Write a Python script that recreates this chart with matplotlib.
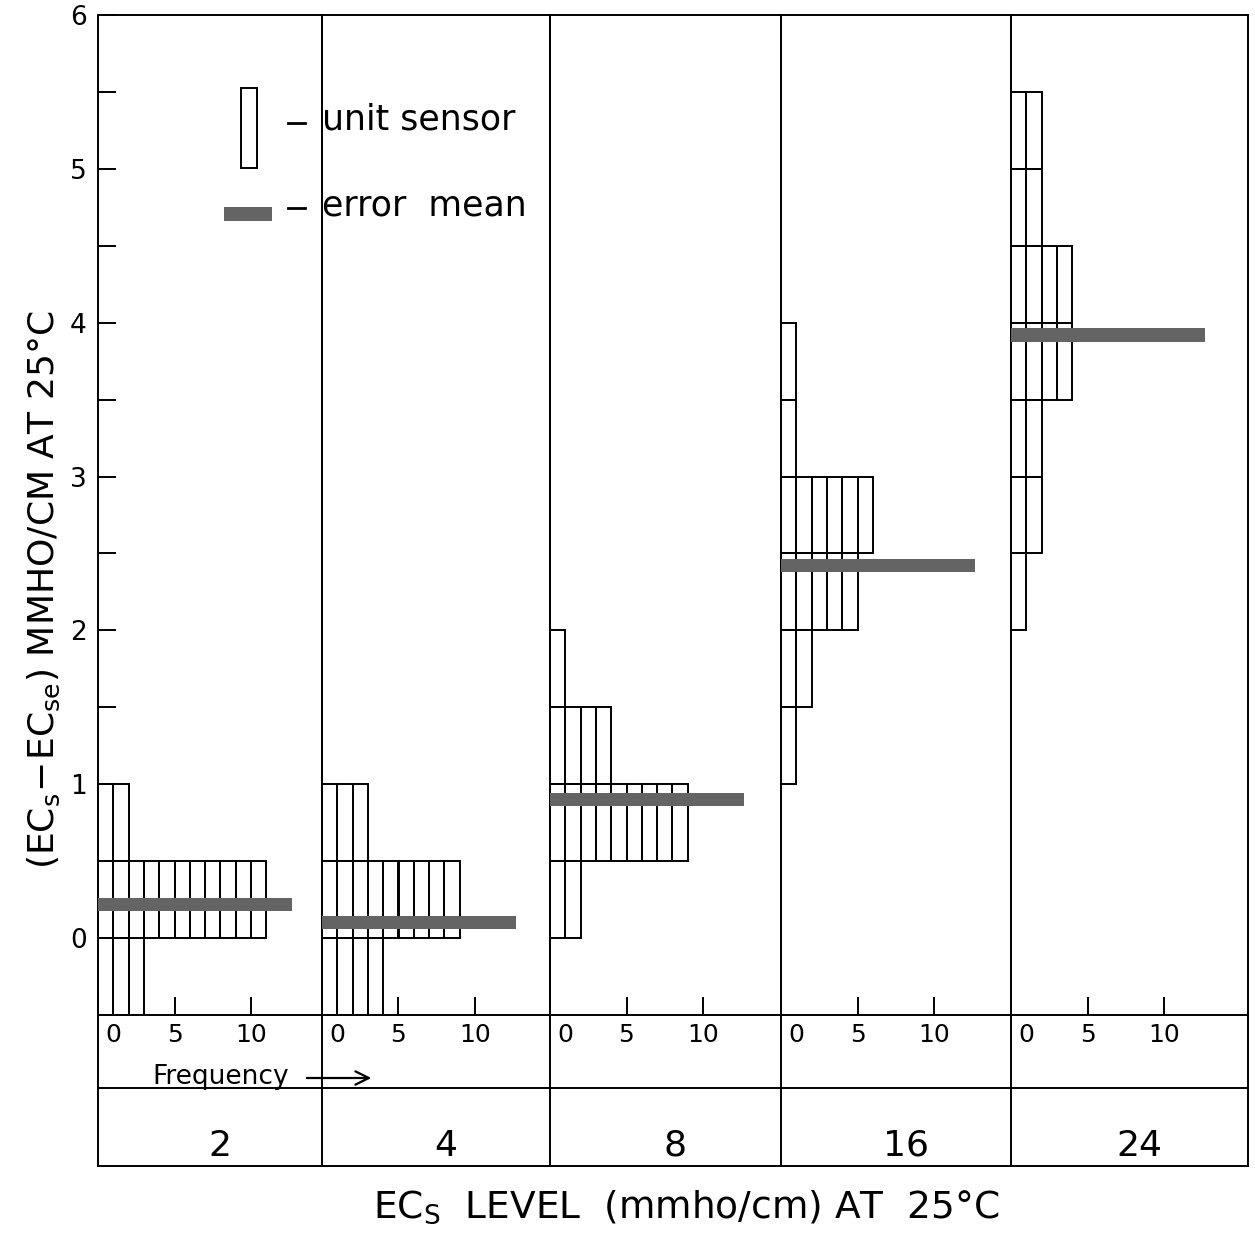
import matplotlib
matplotlib.use('Agg')
import matplotlib.pyplot as plt
from matplotlib.patches import Rectangle
from matplotlib.lines import Line2D
from matplotlib.transforms import ScaledTranslation

plt.rcParams['font.family'] = ['DejaVu Sans']

# ---------------- data ----------------
ec_levels = ['2', '4', '8', '16', '24']
bin_width = 0.5
# lower edge of each 0.5-wide error bin, and number of unit sensors in it
bin_lows = [
    [-0.5, 0.0, 0.5],
    [-0.5, 0.0, 0.5],
    [0.0, 0.5, 1.0, 1.5],
    [1.0, 1.5, 2.0, 2.5, 3.0, 3.5],
    [2.0, 2.5, 3.0, 3.5, 4.0, 4.5, 5.0],
]
bin_counts = [
    [3, 11, 2],
    [4, 9, 3],
    [2, 9, 4, 1],
    [1, 2, 5, 6, 1, 1],
    [1, 2, 2, 4, 4, 2, 2],
]
error_means = [0.22, 0.10, 0.90, 2.42, 3.92]
freq_ticks = [0, 5, 10]
y_major = [0, 1, 2, 3, 4, 5, 6]
y_minor = [0.5, 1.5, 2.5, 3.5, 4.5, 5.5]

# ---------------- layout helpers ----------------
W, H = 1255, 1235
fig = plt.figure(figsize=(W / 100, H / 100), dpi=100)


def fx(x):
    return x / W


def fy(y):
    return 1 - y / H


LW = 1.4
MEAN_COLOR = '#646464'
bounds = [98, 322, 550, 781, 1011, 1248]
top, bot, tbl_bot = 15, 1015, 1166
PX_PER_UNIT = 15.3
MEAN_LEN = 12.7

# ---------------- bottom table (drawn first, transparent) ----------------
axt = fig.add_axes([fx(bounds[0]), fy(tbl_bot), (bounds[-1] - bounds[0]) / W,
                    (tbl_bot - bot) / H])
axt.set_facecolor('none')
axt.set_xlim(bounds[0], bounds[-1])
axt.set_ylim(tbl_bot, bot)
axt.set_xticks([])
axt.set_yticks([])
axt.spines['top'].set_visible(False)
for s in ['left', 'right', 'bottom']:
    axt.spines[s].set_linewidth(LW)
axt.axhline(1088, color='black', lw=LW)
for b in bounds[1:-1]:
    axt.axvline(b, color='black', lw=LW)
for i, lab in enumerate(ec_levels):
    cx = (bounds[i] + bounds[i + 1]) / 2 + 10
    axt.text(cx, 1146, lab, ha='center', va='center', fontsize=26)
axt.text(152, 1077, 'Frequency', ha='left', va='center', fontsize=19)
axt.annotate('', xy=(374, 1078), xytext=(304, 1078),
             arrowprops=dict(arrowstyle='->', lw=1.6, mutation_scale=24))

for i in range(5):
    l, r = bounds[i], bounds[i + 1]
    ax = fig.add_axes([fx(l), fy(bot), (r - l) / W, (bot - top) / H])
    ax.set_facecolor('none')
    ax.set_xlim(0, (r - l) / PX_PER_UNIT)
    ax.set_ylim(-0.5, 6)
    for low, cnt in zip(bin_lows[i], bin_counts[i]):
        ax.bar(range(cnt), bin_width, bottom=low, width=1, align='edge',
               fill=False, edgecolor='black', linewidth=LW, zorder=2)
    ax.barh(error_means[i], MEAN_LEN, height=0.085, left=0, align='center',
            color=MEAN_COLOR, zorder=3)
    for s in ax.spines.values():
        s.set_linewidth(LW)
    ax.set_xticks(freq_ticks)
    ax.set_xticklabels([str(t) for t in freq_ticks])
    ax.tick_params(axis='x', direction='in', length=13, width=LW,
                   labelsize=18, pad=6)
    t0 = ax.xaxis.get_major_ticks()[0].label1
    t0.set_ha('left')
    t0.set_transform(t0.get_transform() +
                     ScaledTranslation(5 / 72, 0, fig.dpi_scale_trans))
    if i == 0:
        ax.set_yticks(y_major)
        ax.set_yticks(y_minor, minor=True)
        ax.set_yticklabels([str(t) for t in y_major])
        ax.tick_params(axis='y', which='both', direction='in', length=13,
                       width=LW, labelsize=19, pad=8)
    else:
        ax.set_yticks([])

# ---------------- axis titles ----------------
fig.text(fx(686), fy(1207), r'EC$_\mathregular{S}$  LEVEL  (mmho/cm) AT  25°C',
         ha='center', va='center', fontsize=27)
fig.text(fx(44), fy(590),
         r'$(\mathregular{EC_s\!-\!EC_{se}})$ MMHO/CM AT 25°C',
         ha='center', va='center', rotation=90, fontsize=26)

# ---------------- legend ----------------
fig.add_artist(Rectangle((fx(241), fy(168)), 16 / W, 80 / H, fill=False,
                         lw=LW, edgecolor='black', transform=fig.transFigure))
fig.add_artist(Rectangle((fx(224), fy(221)), 48 / W, 14 / H,
                         facecolor=MEAN_COLOR, edgecolor='none',
                         transform=fig.transFigure))
for yy in (123, 208):
    fig.add_artist(Line2D([fx(288), fx(305)], [fy(yy), fy(yy)], color='black',
                          lw=2, transform=fig.transFigure))
fig.text(fx(322), fy(119), 'unit sensor', ha='left', va='center', fontsize=25)
fig.text(fx(322), fy(205), 'error  mean', ha='left', va='center', fontsize=25)

fig.savefig('out.png', dpi=100, facecolor='white')
